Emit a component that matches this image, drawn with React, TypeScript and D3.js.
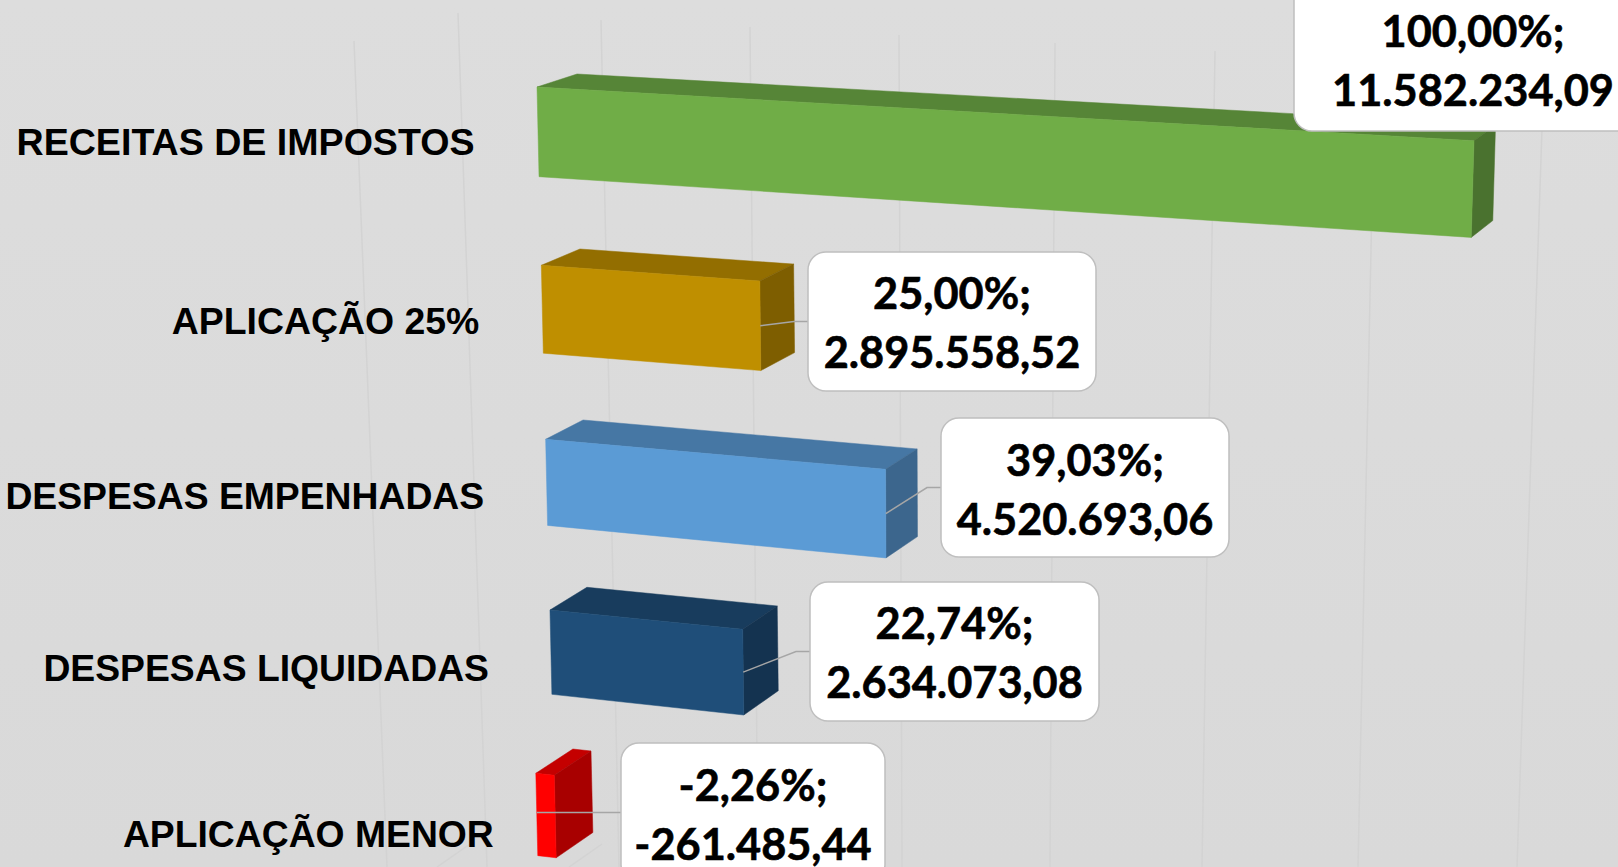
import * as d3 from "d3";

const width = 1618;
const height = 867;

// dados
const categories = [
  "RECEITAS DE IMPOSTOS",
  "APLICAÇÃO 25%",
  "DESPESAS EMPENHADAS",
  "DESPESAS LIQUIDADAS",
  "APLICAÇÃO MENOR",
];
const values = [11582234.09, 2895558.52, 4520693.06, 2634073.08, -261485.44];
const barColors = ["#70AD47", "#BF8F00", "#5B9BD5", "#1F4E79", "#FF0000"];
const gridTicks = [-4e6, -2e6, 0, 2e6, 4e6, 6e6, 8e6, 10e6, 12e6];

// caixas dos rotulos: esquerda, direita, topo, base
const boxLeft = [1294, 808, 941, 810, 621];
const boxRight = [1652, 1096, 1229, 1099, 885];
const boxTop = [-20, 252, 418, 582, 743];
const boxBottom = [131, 391, 557, 721, 882];
const boxBaseline = [46.5, 308.5, 475.5, 638.5, 800.5];
const categorySize = [37.6, 37.4, 37.3, 37.3, 37.3];

const pt = d3.formatLocale({
  decimal: ",",
  thousands: ".",
  grouping: [3],
  currency: ["R$", ""],
  minus: "-",
});
const money = pt.format(",.2f");
const pctText = pt.format(".2f");

const rows = d3.range(5);
const pct = d3.scaleLinear().domain([0, values[0]]).range([0, 100]);

// perspectiva do 3D: cada grandeza varia com a linha do grafico
const zeroX = d3.scaleLinear().domain([0, 4]).range([537, 554.3]);
const zeroY = d3.scaleLinear().domain(rows).range([87, 265.3, 439.3, 610, 775.3]);
const slope = d3.scaleLinear().domain(rows).range([0.0573, 0.072, 0.0882, 0.1, 0.11]);
const baseHeight = d3.scaleLinear().domain([0, 4]).range([89.7, 82.5]);
const depthX = d3.scaleLinear().domain(rows).range([40, 38.6, 37.4, 36.9, 36.7]);
const depthShrink = d3.scaleLinear().domain(rows).range([0.0197, 0.022, 0.0173, 0.0125, 0.02]);
const depthY = d3.scaleLinear().domain(rows).range([-13, -16.3, -19.3, -22.7, -24.3]);

// eixo de valores na parede do fundo
const gridTopX = d3.scaleLinear().domain(gridTicks).range([354, 458, 601, 750, 899, 1055, 1215, 1375, 1544]);
const gridBottomX = d3.scaleLinear().domain(gridTicks).range([387, 487, 619, 758, 902, 1050, 1202, 1358, 1517]);
const gridTopY = d3.scaleLinear().domain(gridTicks).range([41, 13, 20, 27, 35, 43, 51, 60, 70]);

const labelRight = d3.scaleLinear().domain([0, 4]).range([474.5, 493.8]);
const labelBaseline = (r: number) => zeroY(r) + 68 + 0.95 * r;

function project(v: number, r: number, down = 0, back = 0) {
  const p = pct(v);
  const dx = p * (8.696 - 0.1245 * r + 0.00674 * p);
  const h = baseHeight(r) + 0.0075 * dx - back;
  const skew = 0.0227 - 0.000055 * dx;
  const x = zeroX(r) + dx + down * h * skew + back * (depthX(r) - depthShrink(r) * dx);
  const y = zeroY(r) + slope(r) * dx + down * h + back * (depthY(r) - 0.003 * dx);
  return [x, y];
}

const shade = (c: string, k: number) => {
  const o = d3.rgb(c);
  return d3.rgb(o.r * k, o.g * k, o.b * k).formatHex();
};

const line = d3.line();

function Bar({ r }: { r: number }) {
  const v = values[r];
  const lo = Math.min(0, v);
  const hi = Math.max(0, v);
  const front = [project(lo, r), project(hi, r), project(hi, r, 1), project(lo, r, 1)];
  const top = [project(lo, r), project(lo, r, 0, 1), project(hi, r, 0, 1), project(hi, r)];
  const side = [project(hi, r), project(hi, r, 0, 1), project(hi, r, 1, 1), project(hi, r, 1)];
  const c = barColors[r];
  const topFill = shade(c, 0.77);
  const sideFill = shade(c, 0.66);
  return (
    <g strokeWidth={0.5} strokeLinejoin="round">
      <path d={line(top) + "Z"} fill={topFill} stroke={topFill} />
      <path d={line(side) + "Z"} fill={sideFill} stroke={sideFill} />
      <path d={line(front) + "Z"} fill={c} stroke={c} />
    </g>
  );
}

function Label({ r }: { r: number }) {
  const left = boxLeft[r];
  const right = boxRight[r];
  const cx = (left + right) / 2;
  const mid = (boxTop[r] + boxBottom[r]) / 2;
  const v = values[r];
  const start = project(v, r, 0.5);
  // barra negativa: a linha sai reta
  const lead = (v < 0
    ? [[start[0], mid], [left, mid]]
    : [start, [left - 14, mid], [left, mid]]) as [number, number][];
  return (
    <g>
      {r > 0 && <path d={line(lead) ?? ""} fill="none" stroke="#A6A6A6" strokeWidth={1.5} />}
      <rect
        x={left}
        y={boxTop[r]}
        width={right - left}
        height={boxBottom[r] - boxTop[r]}
        rx={18}
        fill="#FFFFFF"
        stroke="#BFBFBF"
        strokeWidth={1.5}
      />
      <text
        x={cx}
        y={boxBaseline[r]}
        textAnchor="middle"
        fontFamily="Lato"
        fontWeight={700}
        fontSize={43.3}
        fill="#000000"
        stroke="#000000"
        strokeWidth={0.6}
      >
        <tspan x={cx}>{pctText(pct(v))}%;</tspan>
        <tspan x={cx} dy={59}>{money(v)}</tspan>
      </text>
    </g>
  );
}

export default function App() {
  return (
    <svg
      width={width}
      height={height}
      style={{ position: "fixed", left: 0, top: 0, display: "block" }}
    >
      <defs>
        <linearGradient id="fundo" x1="0" y1="0" x2="0" y2="1">
          <stop offset="0" stopColor="#DDDDDD" />
          <stop offset="1" stopColor="#D9D9D9" />
        </linearGradient>
      </defs>
      <rect width={width} height={height} fill="url(#fundo)" />

      {/* linhas de grade */}
      <g stroke="#D3D3D3" strokeWidth={1.5} fill="none">
        {gridTicks.map((t) => (
          <line key={t} x1={gridTopX(t)} y1={gridTopY(t)} x2={gridBottomX(t)} y2={height} />
        ))}
        {gridTicks.slice(1, 3).map((t) => {
          const x = gridBottomX(t);
          return <line key={t} x1={x - 17} y1={844} x2={x - 50} y2={height} />;
        })}
      </g>

      {/* categorias */}
      <g fontFamily="Liberation Sans" fontWeight={700} fill="#000000" textAnchor="end">
        {categories.map((c, r) => (
          <text key={c} x={labelRight(r)} y={labelBaseline(r)} fontSize={categorySize[r]}>{c}</text>
        ))}
      </g>

      {rows.map((r) => <Bar key={r} r={r} />)}
      {rows.map((r) => <Label key={r} r={r} />)}
    </svg>
  );
}
